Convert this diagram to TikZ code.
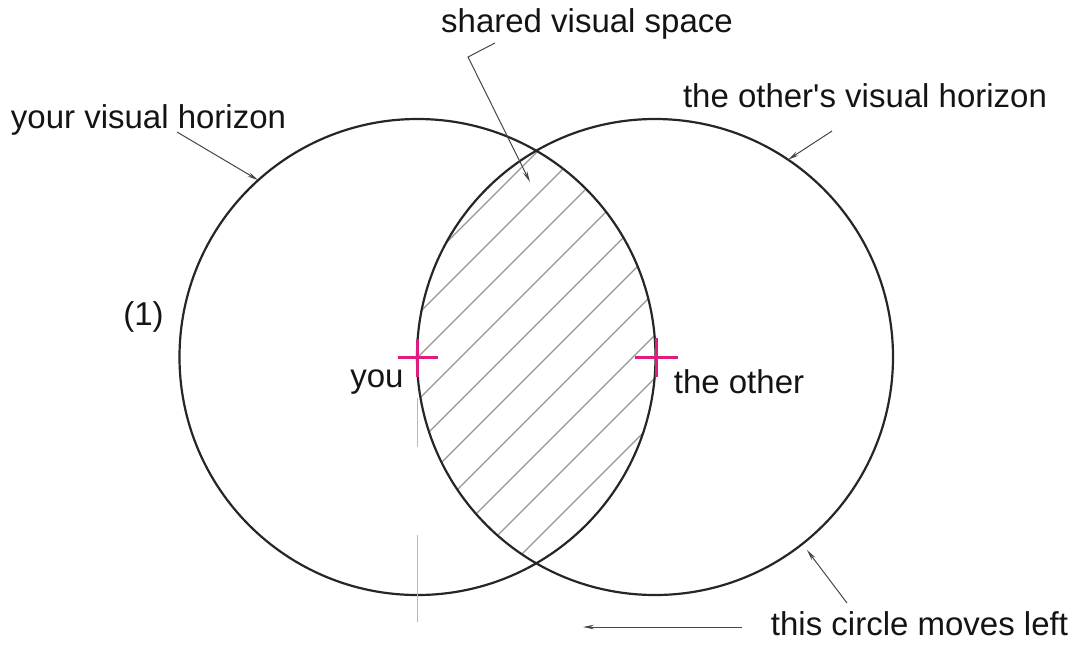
\documentclass[tikz,border=0pt]{standalone}
\usepackage{fontspec}
\setmainfont{Liberation Sans}[Ligatures=TeXOff]
\usetikzlibrary{arrows.meta}
\definecolor{crossmag}{RGB}{224,28,128}
\definecolor{leadgray}{RGB}{70,70,70}
\definecolor{hatchgray}{RGB}{150,150,150}
\definecolor{axisgray}{RGB}{185,185,185}
\begin{document}
\begin{tikzpicture}[x=1pt,y=-1pt,
  lbl/.style={font=\fontsize{33}{40}\selectfont, inner sep=0pt, anchor=base, text=black!92},
  horizon/.style={circle, draw=black!85, line width=2.2pt, minimum size=476pt, inner sep=0pt, outer sep=0pt},
  leader/.style={draw=leadgray, line width=1pt, -{Stealth[length=11pt,width=4.5pt]}},
  hatch/.style={draw=hatchgray, line width=1.1pt},
  viewer/.style={draw=crossmag, line width=3pt},
  axisline/.style={draw=axisgray, line width=1.5pt}]
\useasboundingbox (0,0) rectangle (1074,649);
% shared region hatching
\begin{scope}
  \clip (417.5,357) circle[radius=238pt];
  \clip (655,357) circle[radius=238pt];
  \foreach \k in {-4,...,9} {
    \draw[hatch] ({775+43*\k-100},100) -- ({775+43*\k-650},650);
  }
\end{scope}
% horizons
\node[horizon] (L) at (417.5,357) {};
\node[horizon] (R) at (655,357) {};
% viewers
\coordinate (you) at (417.5,357);
\coordinate (other) at (656,357);
\draw[viewer] ([xshift=-20pt]you) -- ([xshift=20pt]you);
\draw[viewer] ([yshift=18pt]you) -- ([yshift=-20pt]you);
\draw[viewer] ([xshift=-21pt]other) -- ([xshift=22pt]other);
\draw[viewer] ([yshift=19pt]other) -- ([yshift=-20pt]other);
% center line
\draw[axisline] (417.5,398) -- (417.5,447);
\draw[axisline] (417.5,535) -- (417.5,622);
% labels
\node[lbl] (tshared) at (587,32) {shared visual space};
\node[lbl] (tyour) at (148.5,128) {your visual horizon};
\node[lbl] (tother) at (865,107) {the other's visual horizon};
\node[lbl] (tmove) at (919.5,635) {this circle moves left};
\node[lbl] (tone) at (143.5,325) {(1)};
\node[lbl] (tyou) at (377,387) {you};
\node[lbl] (tthe) at (739,393) {the other};
% leaders
\coordinate (s1) at (495,43);
\coordinate (s2) at (468,57);
\coordinate (s3) at (530,182);
\draw[leader] (s1) -- (s2) -- (s3);
\coordinate (y1) at (177,132);
\draw[leader] (y1) -- (L.132);
\coordinate (o1) at (832,131);
\draw[leader] (o1) -- (R.56);
\coordinate (m1) at (847,603);
\coordinate (m2) at (807,550);
\draw[leader] (m1) -- (m2);
\coordinate (a1) at (742,627);
\coordinate (a2) at (583,627);
\draw[leader] (a1) -- (a2);
\end{tikzpicture}
\end{document}
